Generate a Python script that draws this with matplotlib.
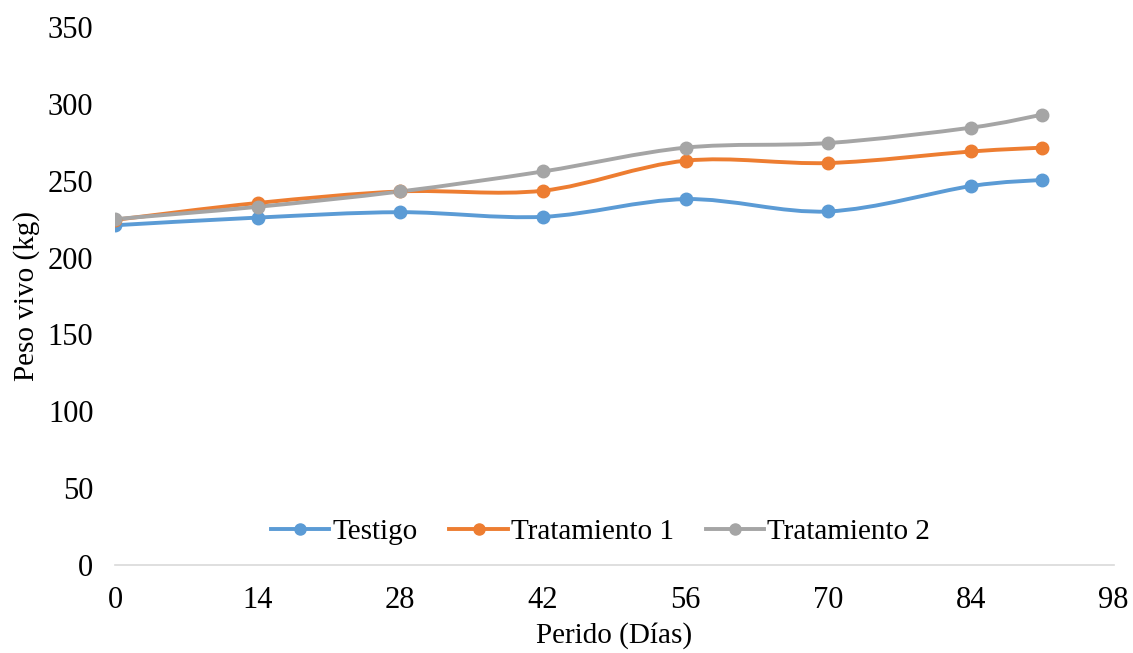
import numpy as np
import matplotlib
matplotlib.use("Agg")
import matplotlib.pyplot as plt
from matplotlib.path import Path
from matplotlib.patches import PathPatch
from matplotlib.lines import Line2D

plt.rcParams['font.family'] = ['Liberation Serif', 'DejaVu Serif']

dias = [0, 14, 28, 42, 56, 70, 84, 91]
testigo = [221, 226, 229.5, 226.5, 238, 230, 246.5, 250.5]
tratamiento1 = [224.5, 235.5, 243, 243.5, 263, 261.5, 269, 271.5]
tratamiento2 = [225, 233, 243, 256, 271.5, 274.5, 284.5, 293]
series_names = ["Testigo", "Tratamiento 1", "Tratamiento 2"]
colors = ["#5B9BD5", "#ED7D31", "#A5A5A5"]
x_ticks = [0, 14, 28, 42, 56, 70, 84, 98]
y_ticks = [0, 50, 100, 150, 200, 250, 300, 350]

fig = plt.figure(figsize=(11.33, 6.53), dpi=100)
ax = fig.add_axes([0.1015, 0.1348, 0.8815, 0.8239])


def smooth_path(x, y):
    x = np.asarray(x, float)
    y = np.asarray(y, float)
    n = len(x)
    verts = [(x[0], y[0])]
    codes = [Path.MOVETO]
    for i in range(n - 1):
        p0 = np.array([x[max(i - 1, 0)], y[max(i - 1, 0)]])
        p1 = np.array([x[i], y[i]])
        p2 = np.array([x[i + 1], y[i + 1]])
        p3 = np.array([x[min(i + 2, n - 1)], y[min(i + 2, n - 1)]])
        c1 = p1 + (p2 - p0) / 6.0
        c2 = p2 - (p3 - p1) / 6.0
        verts += [tuple(c1), tuple(c2), tuple(p2)]
        codes += [Path.CURVE4] * 3
    return Path(verts, codes)


handles = []
for vals, name, c in zip([testigo, tratamiento1, tratamiento2], series_names, colors):
    patch = PathPatch(smooth_path(dias, vals), facecolor='none', edgecolor=c,
                      lw=2.8, capstyle='round', joinstyle='round', zorder=2)
    ax.add_patch(patch)
    ax.plot(dias, vals, linestyle='none', marker='o', markersize=9,
            color=c, zorder=3)
    handles.append(Line2D([], [], color=c, lw=2.8, marker='o', markersize=8))

ax.set_xlim(0, 98)
ax.set_ylim(0, 350)
ax.set_xticks(x_ticks)
ax.set_yticks(y_ticks)
ax.tick_params(axis='both', length=0, labelsize=22, colors='black')
ax.tick_params(axis='x', pad=15)
ax.tick_params(axis='y', pad=15.5)
for side in ['top', 'right', 'left']:
    ax.spines[side].set_visible(False)
ax.spines['bottom'].set_color('#D9D9D9')
ax.spines['bottom'].set_linewidth(1.2)

ax.set_xlabel("Perido (Días)", fontsize=21, labelpad=5)
ax.set_ylabel("Peso vivo (kg)", fontsize=21, labelpad=6)

ax.legend(handles, series_names, loc='center', bbox_to_anchor=(0.486, 0.061),
          ncol=3, frameon=False, fontsize=21, handlelength=2.0,
          handletextpad=0.1, columnspacing=1.1)

fig.savefig("out.png", dpi=100)
